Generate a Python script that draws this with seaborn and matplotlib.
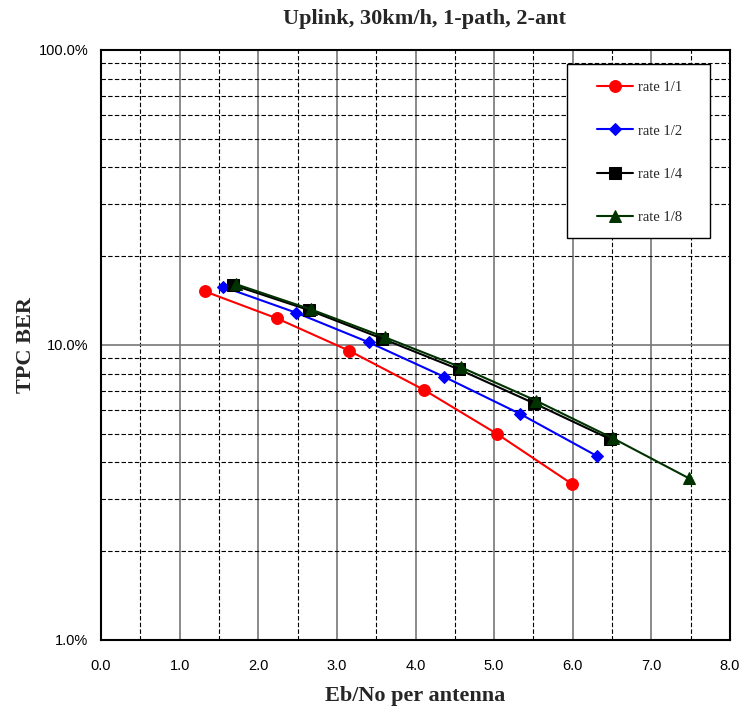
import numpy as np
import pandas as pd
import matplotlib
matplotlib.use("Agg")
import matplotlib.pyplot as plt
import matplotlib.ticker as mticker
from matplotlib.patches import Rectangle
import seaborn as sns

# Eb/No (dB) and BER (fraction)
ebno_r1 = [1.32, 2.24, 3.16, 4.11, 5.04, 5.99]
ber_r1 = [0.152, 0.123, 0.0955, 0.0704, 0.0499, 0.0338]

ebno_r2 = [1.55, 2.48, 3.41, 4.36, 5.33, 6.31]
ber_r2 = [0.1576, 0.1287, 0.102, 0.0781, 0.0584, 0.042]

ebno_r4 = [1.68, 2.64, 3.58, 4.55, 5.51, 6.48]
ber_r4 = [0.1597, 0.1314, 0.105, 0.0827, 0.0634, 0.0479]

ebno_r8 = [1.72, 2.67, 3.61, 4.58, 5.53, 6.51, 7.48]
ber_r8 = [0.1606, 0.132, 0.1062, 0.084, 0.0648, 0.0483, 0.0353]

labels = ["rate 1/1", "rate 1/2", "rate 1/4", "rate 1/8"]
colors = ["#ff0000", "#0000ff", "#000000", "#003300"]
markers = ["o", "D", "s", "^"]
msizes = [8.5, 6.5, 8.5, 8.5]

sns.set_theme(style="white")
plt.rcParams["font.family"] = ["Liberation Sans", "DejaVu Sans"]

fig = plt.figure(figsize=(7.39, 7.11), dpi=100)
ax = fig.add_axes([0.1367, 0.0999, 0.8511, 0.8298])

series = [(ebno_r1, ber_r1), (ebno_r2, ber_r2), (ebno_r4, ber_r4), (ebno_r8, ber_r8)]
for (xs, ys), lab, col, mk, ms in zip(series, labels, colors, markers, msizes):
    df = pd.DataFrame({"x": xs, "y": ys})
    sns.lineplot(data=df, x="x", y="y", ax=ax, color=col, marker=mk,
                 markersize=ms, markeredgecolor=col, linewidth=1.5,
                 label=lab, sort=False, zorder=3)

ax.set_yscale("log")
ax.set_xlim(0, 8)
ax.set_ylim(0.01, 1.0)

ax.xaxis.set_major_locator(mticker.MultipleLocator(1.0))
ax.xaxis.set_minor_locator(mticker.MultipleLocator(0.5))
ax.xaxis.set_major_formatter(mticker.FormatStrFormatter("%.1f"))
ax.yaxis.set_major_locator(mticker.LogLocator(base=10))
ax.yaxis.set_minor_locator(mticker.LogLocator(base=10, subs=np.arange(2, 10)))
ax.yaxis.set_major_formatter(mticker.PercentFormatter(xmax=1, decimals=1))
ax.yaxis.set_minor_formatter(mticker.NullFormatter())

ax.grid(which="major", axis="both", color="#777777", linestyle="-", linewidth=1.2)
ax.grid(which="minor", axis="both", color="#000000", linestyle=(0, (4, 2)), linewidth=0.8)
ax.set_axisbelow(True)

ax.tick_params(which="both", length=0)
ax.tick_params(axis="x", pad=14, labelsize=10.5, colors="black")
ax.tick_params(axis="y", pad=9, labelsize=10.5, colors="black")

for s in ax.spines.values():
    s.set_color("black")
    s.set_linewidth(1.5)

fig.text(0.574, 0.973, "Uplink, 30km/h, 1-path, 2-ant", fontsize=16, fontweight="bold",
         family="Liberation Serif", ha="center", va="center")
ax.set_xlabel("Eb/No per antenna", fontsize=16, fontweight="bold",
              family="Liberation Serif", labelpad=9)
ax.set_ylabel("TPC BER", fontsize=16, fontweight="bold",
              family="Liberation Serif", labelpad=2)

# legend box drawn separately so the entries sit centred with wide margins
ax.add_patch(Rectangle((0.741, 0.681), 0.227, 0.295, transform=ax.transAxes,
                       facecolor="white", edgecolor="black", linewidth=1.0,
                       zorder=4.5, clip_on=False))
leg = ax.legend(loc="upper left", bbox_to_anchor=(0.7886, 0.947), borderaxespad=0,
                frameon=False, prop={"family": "Liberation Serif", "size": 10.5},
                labelspacing=2.05, handlelength=2.5, handletextpad=0.3,
                borderpad=0)
leg.set_zorder(5)

fig.savefig("out.png", dpi=100)
